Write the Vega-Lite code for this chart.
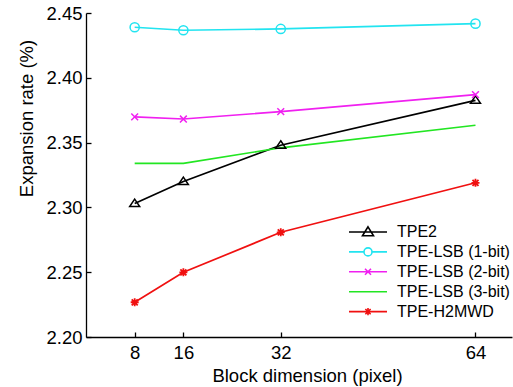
{
  "$schema": "https://vega.github.io/schema/vega-lite/v6.json",
  "width": 426,
  "height": 324,
  "autosize": {"type": "none"},
  "padding": {"left": 86, "top": 13, "right": 1, "bottom": 50},
  "background": "white",
  "config": {
    "view": {"stroke": null},
    "font": "Liberation Sans",
    "axis": {
      "grid": false,
      "domainColor": "black",
      "domainWidth": 1.3,
      "tickColor": "black",
      "tickWidth": 1.3,
      "tickSize": -5,
      "labelColor": "black",
      "labelFont": "Liberation Sans",
      "labelFontSize": 18.5,
      "titleColor": "black",
      "titleFont": "Liberation Sans",
      "titleFontSize": 18.5,
      "titleFontWeight": "normal"
    }
  },
  "data": {
    "values": [
      {"b": 8, "s": "TPE2", "v": 2.303},
      {"b": 16, "s": "TPE2", "v": 2.320},
      {"b": 32, "s": "TPE2", "v": 2.348},
      {"b": 64, "s": "TPE2", "v": 2.3826},
      {"b": 8, "s": "TPE-LSB (1-bit)", "v": 2.439},
      {"b": 16, "s": "TPE-LSB (1-bit)", "v": 2.4367},
      {"b": 32, "s": "TPE-LSB (1-bit)", "v": 2.4377},
      {"b": 64, "s": "TPE-LSB (1-bit)", "v": 2.4418},
      {"b": 8, "s": "TPE-LSB (2-bit)", "v": 2.3698},
      {"b": 16, "s": "TPE-LSB (2-bit)", "v": 2.3682},
      {"b": 32, "s": "TPE-LSB (2-bit)", "v": 2.3739},
      {"b": 64, "s": "TPE-LSB (2-bit)", "v": 2.387},
      {"b": 8, "s": "TPE-LSB (3-bit)", "v": 2.334},
      {"b": 16, "s": "TPE-LSB (3-bit)", "v": 2.334},
      {"b": 32, "s": "TPE-LSB (3-bit)", "v": 2.346},
      {"b": 64, "s": "TPE-LSB (3-bit)", "v": 2.3634},
      {"b": 8, "s": "TPE-H2MWD", "v": 2.2268},
      {"b": 16, "s": "TPE-H2MWD", "v": 2.2499},
      {"b": 32, "s": "TPE-H2MWD", "v": 2.2808},
      {"b": 64, "s": "TPE-H2MWD", "v": 2.319}
    ]
  },
  "encoding": {
    "x": {
      "field": "b", "type": "quantitative",
      "scale": {"domain": [0, 70], "nice": false, "zero": false},
      "axis": {
        "values": [8, 16, 32, 64],
        "title": "Block dimension (pixel)",
        "labelPadding": 11,
        "titleX": 221,
        "titleY": 44,
        "titleBaseline": "alphabetic"
      }
    },
    "y": {
      "field": "v", "type": "quantitative",
      "scale": {"domain": [2.2, 2.45], "nice": false, "zero": false},
      "axis": {
        "values": [2.2, 2.25, 2.3, 2.35, 2.4, 2.45],
        "format": ".2f",
        "title": "Expansion rate (%)",
        "labelPadding": 9,
        "titleX": -69,
        "titleY": 105,
        "titleBaseline": "top",
        "titleAlign": "center"
      }
    },
    "color": {
      "field": "s", "type": "nominal",
      "scale": {
        "domain": ["TPE2", "TPE-LSB (1-bit)", "TPE-LSB (2-bit)", "TPE-LSB (3-bit)", "TPE-H2MWD"],
        "range": ["#000000", "#22E4F0", "#F020F0", "#22E622", "#F01010"]
      },
      "legend": {
        "title": null,
        "orient": "none",
        "legendX": 274,
        "legendY": 211,
        "padding": 0,
        "labelFont": "Liberation Sans",
        "labelFontSize": 16,
        "labelColor": "black",
        "labelOffset": 21,
        "symbolSize": 100,
        "rowPadding": 3.9,
        "symbolStrokeWidth": 1.6,
        "encode": {
          "symbols": {
            "update": {
              "fill": {"value": "transparent"},
              "strokeWidth": {"value": 1.6},
              "shape": {"signal": "datum.value === 'TPE2' ? 'M-3.8,0H3.8M0,-1.03L1.1,0.76L-1.1,0.76Z' : datum.value === 'TPE-LSB (1-bit)' ? 'M-3.8,0H-0.8M0.8,0H3.8M0.8,0A0.8,0.8 0 1,1 -0.8,0A0.8,0.8 0 1,1 0.8,0' : datum.value === 'TPE-LSB (2-bit)' ? 'M-3.8,0H3.8M-0.6,-0.6L0.6,0.6M-0.6,0.6L0.6,-0.6' : datum.value === 'TPE-LSB (3-bit)' ? 'M-3.8,0H3.8' : 'M-3.8,0H3.8M-0.53,-0.53L0.53,0.53M-0.53,0.53L0.53,-0.53M0,-0.72V0.72'"}
            }
          }
        }
      }
    }
  },
  "layer": [
    {
      "mark": {"type": "line", "strokeWidth": 1.7}
    },
    {
      "transform": [{"filter": "datum.s === 'TPE2'"}],
      "mark": {"type": "point", "filled": false, "strokeWidth": 1.5, "size": 64, "opacity": 1,
               "shape": "M0,-1.1L1.25,0.75L-1.25,0.75Z"}
    },
    {
      "transform": [{"filter": "datum.s === 'TPE-LSB (1-bit)'"}],
      "mark": {"type": "point", "filled": false, "strokeWidth": 1.5, "size": 64, "opacity": 1,
               "shape": "M1.15,0A1.15,1.15 0 1,1 -1.15,0A1.15,1.15 0 1,1 1.15,0"}
    },
    {
      "transform": [{"filter": "datum.s === 'TPE-LSB (2-bit)'"}],
      "mark": {"type": "point", "filled": false, "strokeWidth": 1.5, "size": 64, "opacity": 1,
               "shape": "M-0.85,-0.85L0.85,0.85M-0.85,0.85L0.85,-0.85"}
    },
    {
      "transform": [{"filter": "datum.s === 'TPE-H2MWD'"}],
      "mark": {"type": "point", "filled": false, "strokeWidth": 1.8, "size": 64, "opacity": 1,
               "shape": "M-0.75,-0.75L0.75,0.75M-0.75,0.75L0.75,-0.75M-1,0H1M0,-1V1"}
    }
  ]
}
